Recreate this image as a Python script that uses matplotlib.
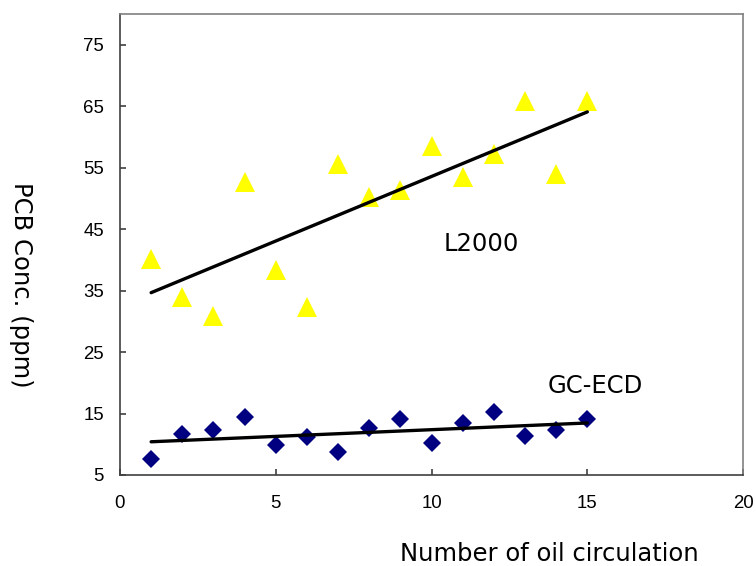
import numpy as np
import matplotlib
matplotlib.use("Agg")
import matplotlib.pyplot as plt

# circulation count and PCB concentration (ppm)
circulation = [1, 2, 3, 4, 5, 6, 7, 8, 9, 10, 11, 12, 13, 14, 15]
l2000 = [40.1, 33.9, 30.8, 52.7, 38.3, 32.4, 55.6, 50.3, 51.3, 58.6, 53.5, 57.3, 65.9, 53.9, 65.9]
gc_ecd = [7.6, 11.7, 12.3, 14.4, 9.9, 11.2, 8.7, 12.6, 14.1, 10.2, 13.4, 15.2, 11.3, 12.3, 14.1]

x_ticks = [0, 5, 10, 15, 20]
y_ticks = [5, 15, 25, 35, 45, 55, 65, 75]

label_font = "DejaVu Sans"
tick_font = "Liberation Sans"
label_size = 17.5

fig = plt.figure(figsize=(7.56, 5.66), dpi=100)
ax = fig.add_axes([0.1587, 0.1608, 0.8243, 0.8145])

x = np.array(circulation)

# linear trend lines over the data range
for ys in (l2000, gc_ecd):
    k, b = np.polyfit(x, ys, 1)
    ax.plot([x.min(), x.max()], [k * x.min() + b, k * x.max() + b],
            color="black", lw=2.4, solid_capstyle="round", zorder=3)

ax.plot(x, l2000, linestyle="none", marker="^", ms=14, color="#FFFF00",
        markeredgewidth=0, zorder=2)
ax.plot(x, gc_ecd, linestyle="none", marker="D", ms=9.5, color="#000080",
        markeredgewidth=0, zorder=2)

ax.text(11.59, 41.5, "L2000", fontsize=label_size, family=label_font,
        ha="center", va="baseline")
ax.text(15.26, 18.3, "GC-ECD", fontsize=label_size, family=label_font,
        ha="center", va="baseline")

ax.set_xlim(0, 20)
ax.set_ylim(5, 80)
ax.set_xticks(x_ticks)
ax.set_yticks(y_ticks)
for lab in ax.get_xticklabels() + ax.get_yticklabels():
    lab.set_family(tick_font)
    lab.set_fontsize(13.4)
ax.tick_params(direction="in", length=4.5, width=1.2, color="#404040")
ax.tick_params(axis="x", pad=14.5)
ax.tick_params(axis="y", pad=11.5)

for side in ("top", "right"):
    ax.spines[side].set_color("#808080")
    ax.spines[side].set_linewidth(1.2)
for side in ("left", "bottom"):
    ax.spines[side].set_color("#404040")
    ax.spines[side].set_linewidth(1.2)

fig.text(0.726, 0.0088, "Number of oil circulation", fontsize=label_size,
         family=label_font, ha="center", va="baseline")
fig.text(0.028, 0.497, "PCB Conc. (ppm)", fontsize=label_size,
         family=label_font, rotation=-90, ha="center", va="center")

fig.savefig("out.png", dpi=100)
